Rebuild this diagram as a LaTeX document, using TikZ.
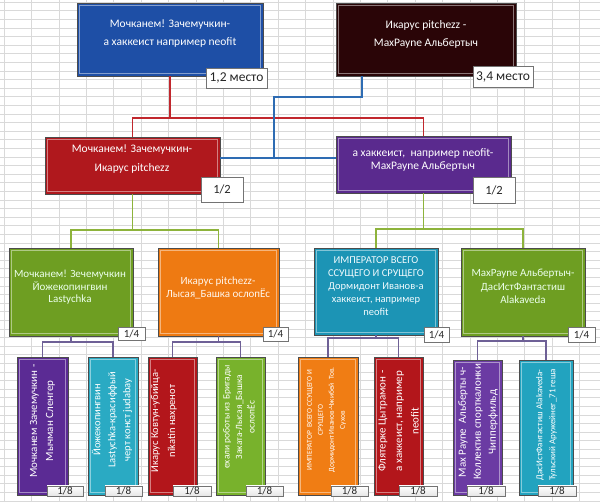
\documentclass[tikz,border=0pt]{standalone}
\usepackage{fontspec}
\setmainfont{Carlito}
\newcommand\myfs[2]{\fontsize{#1}{#2}\selectfont}
\definecolor{cBlue}{HTML}{1E4FA6}
\definecolor{cDark}{HTML}{2A0507}
\definecolor{cRedA}{HTML}{B0181D}
\definecolor{cPurpleA}{HTML}{5A2A8E}
\definecolor{cGreen}{HTML}{6E9E22}
\definecolor{cOrange}{HTML}{EE7A12}
\definecolor{cTeal}{HTML}{1C94B5}
\definecolor{cPurpleB}{HTML}{5B2B94}
\definecolor{cTealB}{HTML}{2AAAC3}
\definecolor{cRedB}{HTML}{B3161B}
\definecolor{cGreenB}{HTML}{78B22C}
\definecolor{cOrangeB}{HTML}{F07D14}
\definecolor{cPurpleC}{HTML}{6B3BA3}
\definecolor{cTealC}{HTML}{22A3BF}
\definecolor{lnRed}{HTML}{C1272D}
\definecolor{lnBlue}{HTML}{2E6CB3}
\definecolor{lnGreen}{HTML}{8DB33B}
\definecolor{lnViolet}{HTML}{6E6096}
\definecolor{gridc}{HTML}{D9D9D9}
\begin{document}
\begin{tikzpicture}[x=1pt,y=-1pt,
  box/.style={draw=black!70, line width=0.6pt, inner sep=0pt, outer sep=0pt,
    path picture={\draw[white, opacity=0.45, line width=0.8pt]
      ([xshift=2.5pt,yshift=-2.5pt]path picture bounding box.north west) rectangle
      ([xshift=-2.5pt,yshift=2.5pt]path picture bounding box.south east);}},
  txt/.style={text=white, align=center, inner sep=0pt},
  tag/.style={draw=black!55, fill=white, line width=0.5pt, inner sep=0pt, text=black!85},
  tageight/.style={tag, top color=white, bottom color=black!10, minimum height=10, font=\myfs{11}{10}},
  conred/.style={draw=lnRed, line width=1.2pt},
  conblue/.style={draw=lnBlue, line width=1.2pt},
  congreen/.style={draw=lnGreen, line width=1.2pt},
  conviolet/.style={draw=lnViolet, line width=1.2pt},
  gridline/.style={draw=gridc, line width=0.5pt}]
\fill[white] (0,0) rectangle (600,502);
\useasboundingbox (0,0) rectangle (600,502);
\foreach \i in {0,...,21} \draw[gridline] ({4+27.4*\i},0) -- ({4+27.4*\i},502);
\foreach \j in {0,...,58} \draw[gridline] (0,{2+8.6*\j}) -- (600,{2+8.6*\j});

% level 1
\node[box, fill=cBlue, minimum width=186, minimum height=73] (b1) at (170,39.5) {};
\node[txt, font=\myfs{11.5}{18}] (b1t) at (170,34) {Мочканем! Зачемучкин-\\а хаккеист например neofit};
\node[box, fill=cDark, minimum width=180, minimum height=73] (d1) at (426,39.5) {};
\node[txt, font=\myfs{11.5}{18}] (d1t) at (426,34) {Икарус pitchezz -\\MaxPayne Альбертыч};
\node[tag, minimum width=61, minimum height=20, font=\myfs{13.5}{14}] (t1) at (236.5,78) {1,2 место};
\node[tag, minimum width=60, minimum height=21, font=\myfs{13.5}{14}] (t2) at (503,76.5) {3,4 место};

% level 2
\node[box, fill=cRedA, minimum width=175, minimum height=57] (r2) at (132.5,165.5) {};
\node[txt, font=\myfs{11.5}{19}] (r2t) at (132,159.5) {Мочканем! Зачемучкин-\\Икарус pitchezz};
\node[tag, minimum width=42, minimum height=25, font=\myfs{12.5}{13}] (t3) at (222,189.5) {1/2};
\node[box, fill=cPurpleA, minimum width=175, minimum height=57] (p2) at (423.5,164.5) {};
\node[txt, font=\myfs{11.5}{13}] (p2t) at (423,159.5) {а хаккеист,\ \ например neofit-\\MaxPayne Альбертыч};
\node[tag, minimum width=42, minimum height=26, font=\myfs{12.5}{13}] (t4) at (494,190) {1/2};

% level 3
\node[box, fill=cGreen, minimum width=124, minimum height=88] (g3a) at (71,292) {};
\node[txt, text=green!8!white, font=\myfs{11}{12.5}] (g3at) at (70,287.5) {Мочканем! Зечемучкин\\Йожекопингвин\\Lastychka};
\node[tag, minimum width=27, minimum height=13, font=\myfs{11}{11}] (t5) at (131.5,333.5) {1/4};
\node[box, fill=cOrange, minimum width=121, minimum height=88] (o3) at (218.5,292) {};
\node[txt, text=orange!8!white, font=\myfs{11}{12.5}] (o3t) at (218,288) {Икарус pitchezz-\\Лысая\_Башка ослопЁс};
\node[tag, minimum width=25, minimum height=14, font=\myfs{11}{11}] (t6) at (275.5,334) {1/4};
\node[box, fill=cTeal, minimum width=124, minimum height=87] (t3b) at (376,291.5) {};
\node[txt, text=cyan!5!white, font=\myfs{10.5}{13}] (t3t) at (376,286) {ИМПЕРАТОР ВСЕГО\\ССУЩЕГО И СРУЩЕГО\\Дормидонт Иванов-а\\хаккеист, например\\neofit};
\node[tag, minimum width=25, minimum height=15, font=\myfs{11}{11}] (t7) at (436.5,334.5) {1/4};
\node[box, fill=cGreen, minimum width=124, minimum height=88] (g3b) at (523,292) {};
\node[txt, text=green!8!white, font=\myfs{11}{13.5}] (g3bt) at (523,286.5) {MaxPayne Альбертыч-\\ДасИстФантастиш\\Alakaveda};
\node[tag, minimum width=27, minimum height=15, font=\myfs{11}{11}] (t8) at (581.5,334.5) {1/4};

% level 4
\node[box, fill=cPurpleB, minimum width=51, minimum height=138] (b4a) at (42.5,426) {};
\node[txt, rotate=90, font=\myfs{11}{16}] (b4at) at (42.5,421) {Мочканем Зачемучкин -\\Мычман Сленгер};
\node[tageight, minimum width=36] (e1) at (65,491) {1/8};
\node[box, fill=cTealB, minimum width=50, minimum height=138] (b4b) at (113,426) {};
\node[txt, rotate=90, font=\myfs{10.5}{15}] (b4bt) at (112,420) {Йожекопингвин\\Lastychka-красиффый\\черт конст judabay};
\node[tageight, minimum width=37] (e2) at (123.5,491) {1/8};
\node[box, fill=cRedB, minimum width=49, minimum height=138] (b4c) at (172.5,426) {};
\node[txt, rotate=90, font=\myfs{10.5}{17}] (b4ct) at (164,421) {Икарус Ковтун-убийца-\\nikatin нахренот};
\node[tageight, minimum width=38] (e3) at (192,491) {1/8};
\node[box, fill=cGreenB, minimum width=49, minimum height=138] (b4d) at (240.5,426) {};
\node[txt, rotate=90, font=\myfs{9.5}{12.5}] (b4dt) at (239,417) {ехали роботы из Бригады\\Заката-Лысая\_Башка\\ослопЁс};
\node[tageight, minimum width=37] (e4) at (264.5,491) {1/8};
\node[box, fill=cOrangeB, minimum width=60, minimum height=138] (b4e) at (328,426) {};
\node[txt, rotate=90, font=\myfs{7.5}{11}] (b4et) at (326.5,420) {ИМПЕРАТОР\ \ ВСЕГО ССУЩЕГО И\\СРУЩЕГО\\Дормидонт Иванов-Чжибей\ \ Тов.\\Сухов};
\node[tageight, minimum width=37] (e5) at (349.5,491) {1/8};
\node[box, fill=cRedB, minimum width=49, minimum height=138] (b4f) at (398.5,426) {};
\node[txt, rotate=90, font=\myfs{11}{16.5}] (b4ft) at (398.5,421) {Флятерке Цытрамон -\\а хаккеист, например\\neofit};
\node[tageight, minimum width=38] (e6) at (418,491) {1/8};
\node[box, fill=cPurpleC, minimum width=49, minimum height=135] (b4g) at (477.5,427.5) {};
\node[txt, rotate=90, font=\myfs{11}{15}] (b4gt) at (478,422) {Max Payne\ \ Альберты ч-\\Коллектив спорткалонки\\Чипперфильд};
\node[tageight, minimum width=38] (e7) at (486,491) {1/8};
\node[box, fill=cTealC, minimum width=54, minimum height=135] (b4h) at (546,427.5) {};
\node[txt, rotate=90, font=\myfs{9}{13}] (b4ht) at (546.5,425) {ДасИстФантастиш Alakaveda-\\Тульский Аружейнег\_71 геша};
\node[tageight, minimum width=38] (e8) at (557,491) {1/8};

% connectors level 1 -> 2
\draw[conred] (b1.south) -- ++(0,42) coordinate (jr);
\draw[conred] (r2.north) |- (jr) -| (p2.north);
\coordinate (bs) at (362,76);
\coordinate (bj) at (274,158);
\draw[conblue] (bs) -- ++(0,21) -| (bj);
\draw[conblue] (r2.east |- bj) -- (p2.west |- bj);

% level 2 -> 3
\draw[congreen] (r2.south) -- ++(0,36) coordinate (j1);
\draw[congreen] (g3a.north) |- (j1) -| (o3.north);
\draw[congreen] (p2.south) -- ++(0,36) coordinate (j2);
\draw[congreen] (t3b.north) |- (j2) -| (g3b.north);

% level 3 -> 4
\draw[conviolet] (g3a.south) -- ++(0,6) coordinate (k1);
\draw[conviolet] (b4a.north) |- (k1) -| (b4b.north);
\draw[conviolet] (o3.south) -- ++(0,6) coordinate (k2);
\draw[conviolet] (b4c.north) |- (k2) -| (b4d.north);
\draw[conviolet] (t3b.south) -- ++(0,3) coordinate (k3);
\draw[conviolet] (b4e.north) |- (k3) -| (b4f.north);
\draw[conviolet] (g3b.south) -- ++(0,5) coordinate (k4);
\draw[conviolet] (b4g.north) |- (k4) -| (b4h.north);
\end{tikzpicture}
\end{document}
